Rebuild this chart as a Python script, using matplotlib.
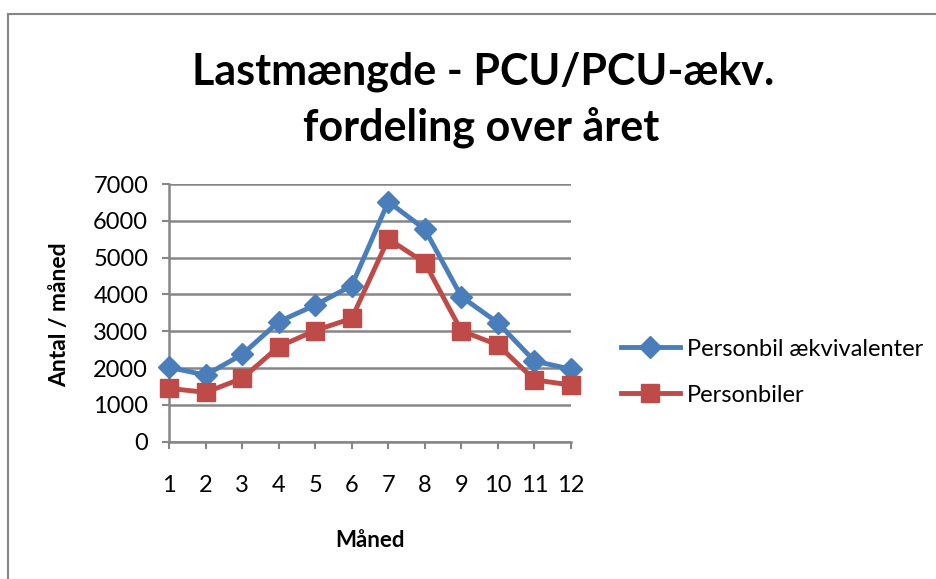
import matplotlib.pyplot as plt
from matplotlib.lines import Line2D

plt.rcParams['font.family'] = ['Lato', 'DejaVu Sans']

# Data
maaned = [1, 2, 3, 4, 5, 6, 7, 8, 9, 10, 11, 12]
pcu_aekv = [2020, 1810, 2370, 3260, 3710, 4240, 6520, 5770, 3940, 3230, 2190, 1970]
personbiler = [1450, 1340, 1720, 2580, 3020, 3350, 5510, 4860, 3010, 2630, 1680, 1540]

blue = '#4A7EBB'
red = '#BE4B48'
grey = '#868686'

fig = plt.figure(figsize=(9.37, 5.79), dpi=100)
ax = fig.add_axes([0.1804, 0.2371, 0.429, 0.4451])

ax.plot(maaned, pcu_aekv, color=blue, lw=3.5, marker='D', ms=11,
        label='Personbil ækvivalenter', zorder=3, clip_on=False)
ax.plot(maaned, personbiler, color=red, lw=3.5, marker='s', ms=13,
        label='Personbiler', zorder=3, clip_on=False)

ax.set_xlim(1, 12)
ax.set_ylim(0, 7000)
ax.set_xticks(maaned)
ax.set_yticks(range(0, 7001, 1000))
ax.yaxis.grid(True, color=grey, lw=1.8)
ax.set_axisbelow(True)
for s in ['top', 'right']:
    ax.spines[s].set_visible(False)
for s in ['left', 'bottom']:
    ax.spines[s].set_color(grey)
    ax.spines[s].set_linewidth(1.8)
ax.tick_params(axis='y', length=5, width=1.5, color=grey, pad=10, labelsize=17)
ax.tick_params(axis='x', length=5, width=1.5, color=grey, pad=19, labelsize=17)

fig.text(0.395, 0.067, 'Måned', ha='center', va='center', fontsize=16, fontweight='bold')
fig.text(0.064, 0.457, 'Antal / måned', ha='center', va='center', rotation=90,
         fontsize=16.5, fontweight='bold')

fig.text(0.516, 0.876, 'Lastmængde - PCU/PCU-ækv.', ha='center', va='center',
         fontsize=31, fontweight='bold')
fig.text(0.513, 0.781, 'fordeling over året', ha='center', va='center',
         fontsize=31, fontweight='bold')

ax.legend(loc='center left', bbox_to_anchor=(1.10, 0.27), frameon=False,
          fontsize=17, handlelength=2.5, handletextpad=0.3, labelspacing=1.05,
          borderaxespad=0)

# chart area border (only left and top visible)
fig.add_artist(Line2D([8 / 937, 8 / 937], [0, 1 - 14 / 579], transform=fig.transFigure,
                      color=grey, lw=1.5))
fig.add_artist(Line2D([8 / 937, 1], [1 - 14 / 579, 1 - 14 / 579], transform=fig.transFigure,
                      color=grey, lw=1.5))

fig.savefig('out.png', dpi=100)
